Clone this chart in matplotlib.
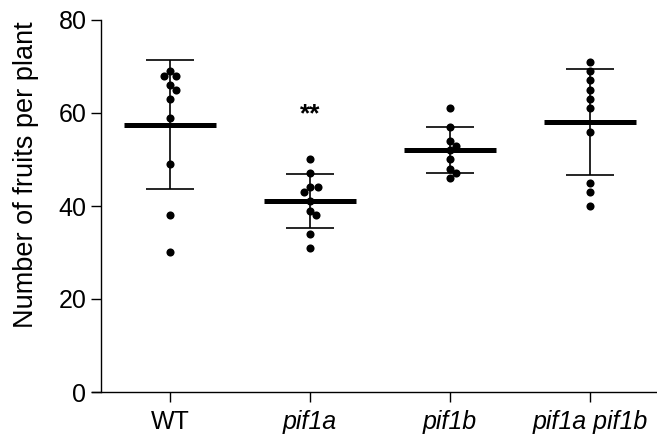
import numpy as np
import matplotlib
matplotlib.use("Agg")
import matplotlib.pyplot as plt

plt.rcParams['font.family'] = ['Liberation Sans', 'DejaVu Sans']

# data
groups = ['WT', 'pif1a', 'pif1b', 'pif1a pif1b']
wt = [69, 68, 68, 66, 65, 63, 59, 49, 38, 30]
pif1a = [50, 47, 44, 44, 43, 41, 39, 38, 34, 31]
pif1b = [61, 57, 54, 53, 52, 50, 48, 47, 46]
pif1ab = [71, 69, 67, 65, 63, 61, 56, 45, 43, 40]
values = [wt, pif1a, pif1b, pif1ab]
signif = ['', '**', '', '']

fig = plt.figure(figsize=(6.57, 4.36), dpi=100)
ax = fig.add_axes([101/657, 44/436, 555/657, 372/436])
ax.set_xlim(-0.493, 3.471)
ax.set_ylim(0, 80)

# simple swarm: px sizes to data units
px_x = 1/140.
px_y = 80/372.
diam = 8.0


def swarm(vals):
    placed = []
    offs = []
    for v in vals:
        k = 0
        while True:
            for sgn in ([0] if k == 0 else [1, -1]):
                dx = sgn*k*0.5
                ok = True
                for (px, pv) in placed:
                    d = np.hypot(dx-px, (v-pv)/px_y)
                    if d < diam-0.5:
                        ok = False
                        break
                if ok:
                    break
            if ok:
                break
            k += 1
        placed.append((dx, v))
        offs.append(dx*px_x)
    return np.array(offs)


for i, vals in enumerate(values):
    v = np.array(vals, dtype=float)
    m = v.mean()
    sd = v.std(ddof=1)
    ax.errorbar(i, m, yerr=sd, fmt='none', ecolor='black', elinewidth=1.2,
                capsize=17, capthick=1.2, zorder=2)
    ax.plot([i-0.33, i+0.33], [m, m], color='black', lw=3.6,
            solid_capstyle='butt', zorder=4)
    ax.scatter(i+swarm(vals), v, s=34, color='black', zorder=3, lw=0)
    if signif[i]:
        ax.text(i, 57.2, signif[i], ha='center', va='bottom', fontsize=19,
                fontweight='bold')

for s in ['top', 'right']:
    ax.spines[s].set_visible(False)
for s in ['left', 'bottom']:
    ax.spines[s].set_linewidth(1.0)
ax.spines['bottom'].set_bounds(-0.56, 3.471)

ax.set_yticks([0, 20, 40, 60, 80])
ax.set_xticks(range(len(groups)))
ax.set_xticklabels(groups)
for lab in ax.get_xticklabels()[1:]:
    lab.set_fontstyle('italic')
ax.tick_params(axis='both', labelsize=18, length=7, width=1.0, color='black')
ax.tick_params(axis='x', pad=6)
ax.set_ylabel('Number of fruits per plant', fontsize=19.5)
ax.yaxis.set_label_coords(-0.112, 0.585)

fig.savefig('out.png', dpi=100)
